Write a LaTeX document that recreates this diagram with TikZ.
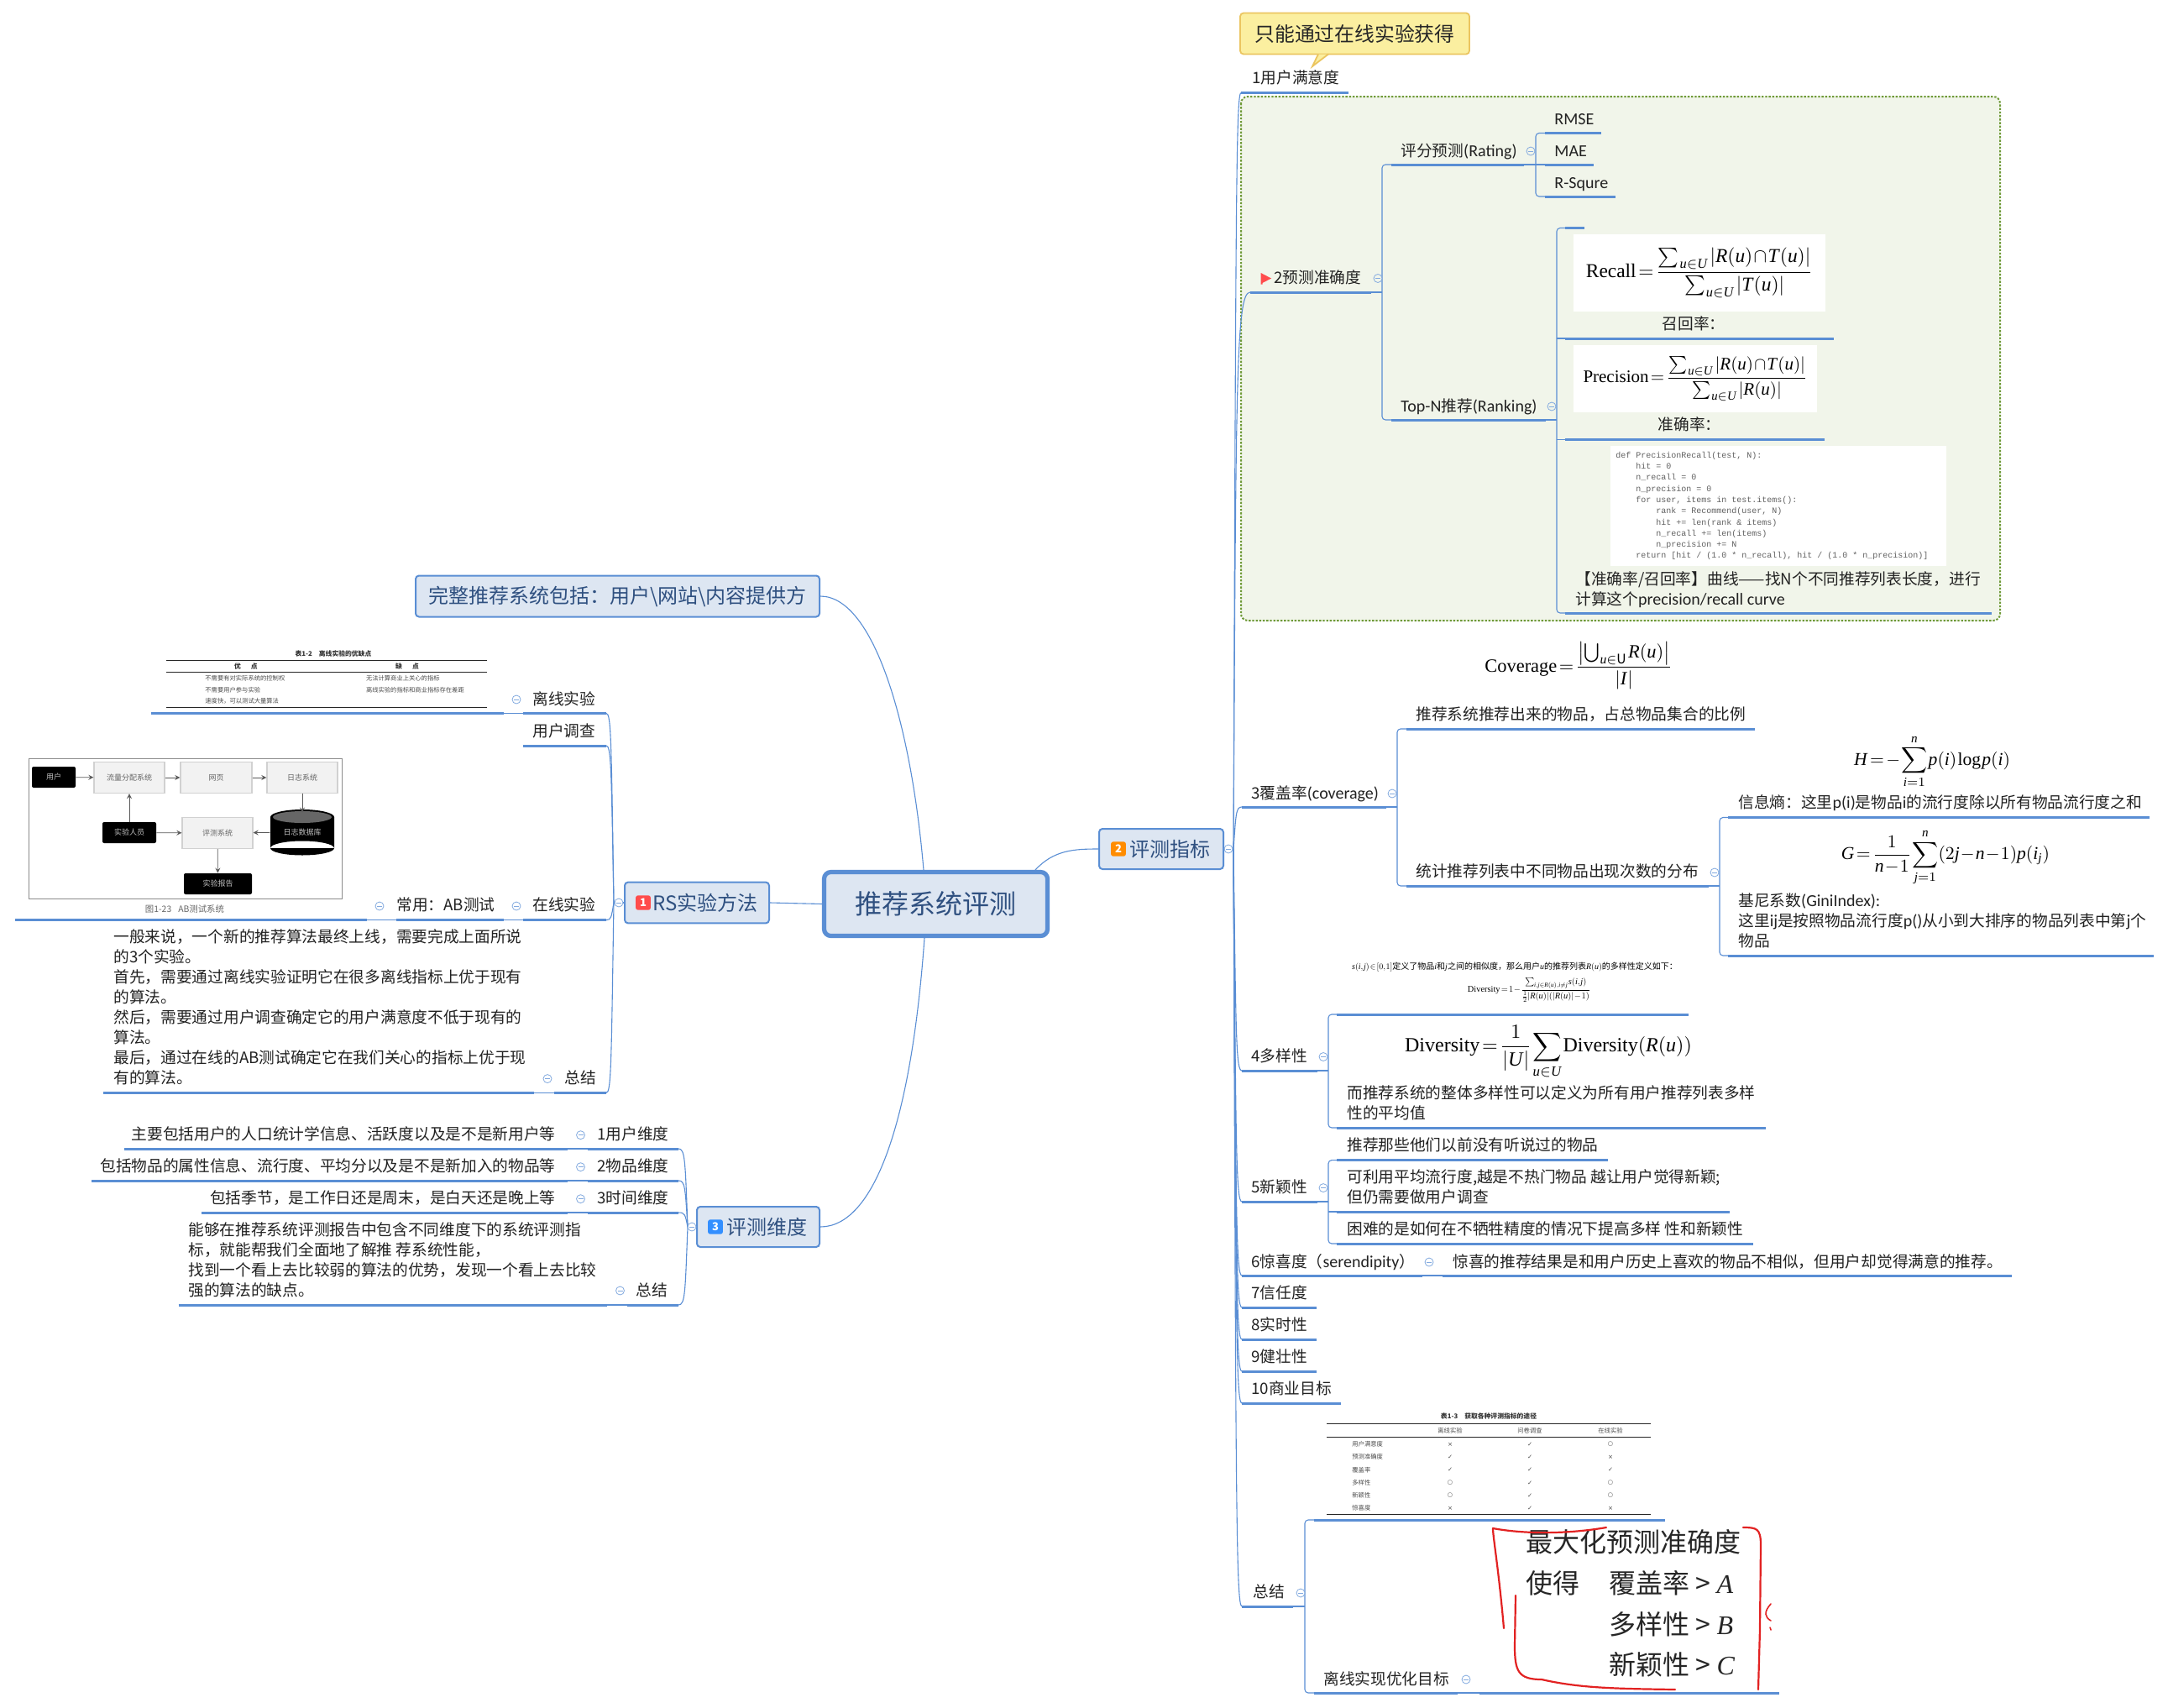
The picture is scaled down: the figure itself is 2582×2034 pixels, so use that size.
\documentclass[tikz,border=0pt]{standalone}
\usepackage{fontspec}
\usepackage{amsmath}
\usepackage{graphicx}
\usetikzlibrary{calc}
\setmainfont{Noto Sans CJK SC}
\newfontfamily\tms{Liberation Serif}
\newfontfamily\mono{Liberation Mono}
\newfontfamily\djv{DejaVu Sans}
\newfontfamily\ltn{Carlito}
\definecolor{linkc}{HTML}{5A8ED4}
\definecolor{boxfill}{HTML}{DDE6F2}
\definecolor{boxtext}{HTML}{2F5080}
\definecolor{greenbg}{HTML}{F1F5EA}
\definecolor{greenln}{HTML}{6F9A38}
\definecolor{calloutf}{HTML}{FBEFA0}
\definecolor{callouts}{HTML}{EBC560}
\definecolor{txt}{HTML}{222222}
\definecolor{redpen}{HTML}{E22222}
\newcommand\lblf{\fontsize{9.35}{12}\selectfont}
\newcommand\lat[1]{{\ltn\fontsize{10}{12}\selectfont #1}}
\newcommand\tv[1]{\text{\tms\itshape #1\/}}
\newcommand\tu[1]{\text{\tms #1}}
\newcommand\tightm{\thinmuskip=1mu\medmuskip=1mu\thickmuskip=2mu}
\newcommand\Ru{\tv{R}(\tv{u})}
\newcommand\Tu{\tv{T}(\tv{u})}
\newcommand\uU{\tv{u}\in\tv{U}}
\tikzset{
  conn/.style={draw=linkc,line width=0.55pt},
  ul/.style={draw=linkc,line width=1.5pt},
  lbl/.style={inner sep=0pt,font=\lblf,text=txt,text height=8.1pt,text depth=1.1pt},
  lblm/.style={inner sep=0pt,font=\lblf,text=txt,align=left},
  mainbox/.style={draw=linkc,fill=boxfill,line width=1pt,rounded corners=2pt,inner sep=0pt,text=boxtext,font=\fontsize{12}{14}\selectfont},
  iconb/.style={rounded corners=1.2pt,inner sep=0pt,minimum width=8.8pt,minimum height=8.6pt,text=white,font=\fontsize{6.5}{7}\selectfont\bfseries},
  imgbox/.style={fill=white,inner sep=0pt},
  foldc/.style={draw=linkc!75,line width=0.4pt},
  tbl/.style={inner sep=0pt,font=\fontsize{3.65}{4.4}\selectfont,text=black!70},
  tblb/.style={inner sep=0pt,font=\fontsize{3.9}{4.6}\selectfont\bfseries,text=black!80},
  abl/.style={draw=black!18,fill=black!5,line width=0.6pt,inner sep=0pt,font=\fontsize{4.5}{5}\selectfont,text=black!60},
  abd/.style={fill=black,rounded corners=1pt,inner sep=0pt,font=\fontsize{4.5}{5}\selectfont,text=white!75!black},
  abar/.style={draw=black!65,line width=0.35pt,->,>=stealth},
  pen/.style={draw=redpen,line width=1.1pt,line cap=round,line join=round},
  big/.style={inner sep=0pt,font=\fontsize{16}{18}\selectfont,text=black!85}
}
\newcommand\ulonly[4]{\coordinate (#1-a) at (#2,#4);\coordinate (#1-b) at (#3,#4);\draw[ul] (#1-a)--(#1-b);}
\newcommand\topic[7]{\ulonly{#1}{#2}{#3}{#4}\node[lbl,anchor=west] (#1-t) at (#5,#6) {#7};}
\newcommand\topicR[7]{\ulonly{#1}{#2}{#3}{#4}\node[lbl,anchor=east] (#1-t) at (#5,#6) {#7};}
\newcommand\topicC[7]{\ulonly{#1}{#2}{#3}{#4}\node[lbl,anchor=center] (#1-t) at (#5,#6) {#7};}
\newcommand\topicM[7]{\ulonly{#1}{#2}{#3}{#4}\node[lblm,anchor=west] (#1-t) at (#5,#6) {#7};}
\newcommand\kids[4]{\coordinate (#1-bx) at (#2,0);
  \draw[conn] (#1-b) -- (#1-b -| #1-bx);
  \draw[conn,rounded corners=2pt] (#3-a) -- (#3-a -| #1-bx) -- (#4-a -| #1-bx) -- (#4-a);}
\newcommand\kid[2]{\draw[conn] (#2-a) -- (#2-a -| #1-bx);}
\newcommand\hubcurve[3]{\draw[conn] (#1) .. controls ($(#1)!0.85!(#1|-#2)+(#3,0)$) and ($(#1|-#2)+(#3,0)$) .. (#2);}
\newcommand\fold[3][white]{\draw[foldc,fill=#1] (#2,#3) circle[radius=5];\draw[foldc] ({#2-3},#3) -- ({#2+3},#3);}
\newcommand\ind[1]{\hspace*{#1pt}}
\begin{document}
\begin{tikzpicture}[x=0.5pt,y=-0.5pt]
\useasboundingbox (0,0) rectangle (2582,2034);
\fill[white] (0,0) rectangle (2582,2034);

% green frame
\draw[draw=greenln,fill=greenbg,line width=1pt,dash pattern=on 1.2pt off 0.9pt,rounded corners=4pt] (1478,115) rectangle (2382,739);

% main nodes
\node[mainbox,line width=2.6pt,rounded corners=4pt,minimum width=133pt,minimum height=38pt,font=\fontsize{16}{18}\selectfont] (root) at (1114.5,1076.5) {推荐系统评测};
\node[mainbox,minimum width=86pt,minimum height=24.4pt] (rs) at (830,1075) {\hspace*{10pt}RS实验方法};
\node[iconb,fill=red!70!white] (rs-icon) at (766,1075) {1};
\node[mainbox,minimum width=74pt,minimum height=24pt] (met) at (1383,1011) {\hspace*{10pt}评测指标};
\node[iconb,fill=orange!90!yellow] (met-icon) at (1332,1011) {2};
\node[mainbox,minimum width=73pt,minimum height=24pt] (dim) at (903,1461) {\hspace*{10pt}评测维度};
\node[iconb,fill=blue!55!cyan!80!white] (dim-icon) at (852,1461) {3};
\node[mainbox,minimum width=240.5pt,minimum height=24.5pt] (whole) at (735.5,710) {完整推荐系统包括：用户\textbackslash 网站\textbackslash 内容提供方};

\coordinate (root-n1) at (1100,1036);
\coordinate (root-n2) at (1233,1036);
\coordinate (root-s1) at (1101,1117);
\draw[conn] (rs.east) -- (root.west);
\draw[conn] (root-n2) .. controls (1255,1012) and (1280,1011) .. (met.west);
\draw[conn] (root-n1) .. controls (1085,860) and (1040,710) .. (whole.east);
\draw[conn] (root-s1) .. controls (1085,1340) and (1040,1461) .. (dim.east);

% hubs
\coordinate (hubM) at (1469,1011);
\coordinate (hubR) at (731,1075);
\coordinate (hubD) at (819,1461);
\draw[conn] (met.east) -- (hubM);
\draw[conn] (rs.west) -- (hubR);
\draw[conn] (dim.west) -- (hubD);

% callout
\node[draw=callouts,fill=calloutf,line width=0.9pt,rounded corners=2pt,minimum width=136.5pt,minimum height=24.5pt,inner sep=0pt,font=\fontsize{11.9}{14}\selectfont,text=black!85] (note) at (1613.5,40) {只能通过在线实验获得};
\coordinate (note-l) at (1570,64.5);
\coordinate (note-r) at (1582,64.5);
\coordinate (note-tip) at (1563,79);
\fill[calloutf] (note-l) -- (note-tip) -- (note-r) -- cycle;
\draw[callouts,line width=0.9pt] (note-l) -- (note-tip) -- (note-r);

% ---------- right side
\topic{m1}{1478}{1606}{110.5}{1491}{92}{1用户满意度}
\topic{m2}{1489}{1633}{348}{1517}{330.5}{2预测准确度}
\fill[red!70!white] (1501.6,325) -- (1514,331.5) -- (1503.5,337) -- (1503.5,338.5) -- (1501.6,338.5) -- cycle;
\topic{rate}{1657}{1815}{196}{1668}{179}{评分预测\lat{(Rating)}}
\topic{rmse}{1840}{1907}{158.5}{1851}{141}{\lat{RMSE}}
\topic{mae}{1840}{1898}{196}{1851}{179}{\lat{MAE}}
\topic{rsq}{1840}{1924}{234}{1851}{217.6}{\lat{R-Squre}}
\topic{topn}{1657}{1841}{500}{1668}{483}{\lat{Top-N}推荐\lat{(Ranking)}}
\kids{rate}{1829}{rmse}{rsq}
\kid{rate}{mae}
\kids{m2}{1646}{rate}{topn}
\ulonly{e0}{1864}{1887}{271.5}
\topicC{rec}{1864}{2184}{403}{2017}{385}{召回率：}
\node[imgbox,minimum width=150pt,minimum height=46pt] (rec-img) at (2024,325) {\scalebox{1.17}{\tightm$\displaystyle\tu{Recall}=\frac{\sum_{\,\uU}|\Ru\cap\Tu|}{\sum_{\,\uU}|\Tu|}$}};
\topicC{pre}{1864}{2173}{523.5}{2012}{505}{准确率：}
\node[imgbox,minimum width=145pt,minimum height=40pt] (pre-img) at (2019,451) {\scalebox{1.05}{\tightm$\displaystyle\tu{Precision}=\frac{\sum_{\,\uU}|\Ru\cap\Tu|}{\sum_{\,\uU}|\Ru|}$}};
\node[imgbox,minimum width=200pt,minimum height=71.5pt] (code-img) at (2118,602.5) {};
\node[inner sep=0pt,anchor=west,align=left,text=black!62,font=\mono\fontsize{5}{6.65}\selectfont] (code) at (1924,602.5) {def PrecisionRecall(test, N):\\
\ind{12}hit = 0\\
\ind{12}n\_recall = 0\\
\ind{12}n\_precision = 0\\
\ind{12}for user, items in test.items():\\
\ind{24}rank = Recommend(user, N)\\
\ind{24}hit += len(rank \& items)\\
\ind{24}n\_recall += len(items)\\
\ind{24}n\_precision += N\\
\ind{12}return [hit / (1.0 * n\_recall), hit / (1.0 * n\_precision)]};
\topicM{curve}{1864}{2372}{730}{1876}{702}{【准确率/召回率】曲线——找N个不同推荐列表长度，进行\\计算这个\lat{precision/recall curve}}
\kids{topn}{1854}{e0}{curve}
\kid{topn}{rec}
\kid{topn}{pre}

\node[inner sep=0pt] (cov-f) at (1880,793) {\scalebox{1.12}{\tightm$\displaystyle\tu{Coverage}=\frac{\bigl|\bigcup_{\tv{u}\in\mathrm{U}}\Ru\bigr|}{|\tv{I}|}$}};
\topic{c1}{1675}{2090}{868}{1686}{850}{推荐系统推荐出来的物品，占总物品集合的比例}
\topic{c2}{1675}{2035}{1055}{1686}{1037}{统计推荐列表中不同物品出现次数的分布}
\topic{m3}{1479}{1651}{961}{1490}{944}{3覆盖率\lat{(coverage)}}
\kids{m3}{1664}{c1}{c2}
\node[inner sep=0pt] (h-f) at (2301,907) {\scalebox{1.08}{\tightm$\displaystyle \tv{H}=-\sum_{\tv{i}=1}^{\tv{n}}\tv{p}(\tv{i})\,\tu{log}\,\tv{p}(\tv{i})$}};
\topic{ent}{2058}{2560}{973.5}{2070}{955.5}{信息熵：这里\lat{p(i)}是物品\lat{i}的流行度除以所有物品流行度之和}
\node[inner sep=0pt] (g-f) at (2317,1021) {\scalebox{1.08}{\tightm$\displaystyle \tv{G}=\frac{1}{\tv{n}-1}\sum_{\tv{j}=1}^{\tv{n}}(2\tv{j}-\tv{n}-1)\tv{p}(\tv{i}_{\tv{j}})$}};
\topicM{gini}{2058}{2565}{1138}{2070}{1096.5}{基尼系数\lat{(GiniIndex):}\\这里\lat{ij}是按照物品流行度\lat{p()}从小到大排序的物品列表中第\lat{j}个\\物品}
\kids{c2}{2048}{ent}{gini}

\node[inner sep=0pt] (div-s) at (1804,1152) {\scalebox{0.5}{\fontsize{10}{12}\selectfont \tightm$\tv{s}(\tv{i},\tv{j})\in[0,1]$定义了物品$\tv{i}$和$\tv{j}$之间的相似度，那么用户$\tv{u}$的推荐列表$\Ru$的多样性定义如下：}};
\node[inner sep=0pt] (div-t) at (1821,1179) {\scalebox{0.52}{\tightm$\displaystyle\tu{Diversity}=1-\frac{\sum_{\tv{i},\tv{j}\in\Ru,\tv{i}\neq\tv{j}}\tv{s}(\tv{i},\tv{j})}{\frac12|\Ru|(|\Ru|-1)}$}};
\ulonly{d0}{1592}{2011}{1208}
\node[inner sep=0pt] (div-f) at (1844,1253) {\scalebox{1.2}{\tightm$\displaystyle\tu{Diversity}=\frac{1}{|\tv{U}|}\sum_{\uU}\tu{Diversity}(\Ru)$}};
\topicM{d1}{1592}{2103}{1343}{1604}{1313.5}{而推荐系统的整体多样性可以定义为所有用户推荐列表多样\\性的平均值}
\topic{m4}{1479}{1569}{1275}{1490}{1257.5}{4多样性}
\kids{m4}{1582}{d0}{d1}

\topic{n1}{1592}{1915}{1381.6}{1604}{1363}{推荐那些他们以前没有听说过的物品}
\topicM{n2}{1592}{2060}{1443}{1604}{1413.5}{可利用平均流行度,越是不热门物品 越让用户觉得新颖;\\但仍需要做用户调查}
\topic{n3}{1592}{2088}{1481}{1604}{1463.5}{困难的是如何在不牺牲精度的情况下提高多样 性和新颖性}
\topic{m5}{1479}{1569}{1431}{1490}{1413.6}{5新颖性}
\kids{m5}{1582}{n1}{n3}
\kid{m5}{n2}

\topic{m6}{1479}{1694}{1519}{1490}{1502}{6惊喜度（\lat{serendipity}）}
\topic{s1}{1718}{2396}{1519}{1730}{1502}{惊喜的推荐结果是和用户历史上喜欢的物品不相似，但用户却觉得满意的推荐。}
\draw[conn] (m6-b) -- (s1-a);
\topic{m7}{1479}{1568}{1557}{1490}{1539.6}{7信任度}
\topic{m8}{1479}{1568}{1595}{1490}{1577.6}{8实时性}
\topic{m9}{1479}{1568}{1633}{1490}{1615.6}{9健壮性}
\topic{m10}{1479}{1597}{1671}{1490}{1653}{10商业目标}

% table 1-3
\node[tblb] (t3-title) at (1773,1686.5) {表1-3\hspace{4pt}获取各种评测指标的途径};
\coordinate (t3-l) at (1580,0);\coordinate (t3-r) at (1966,0);
\foreach \yy/\w in {1695/0.5pt,1711/0.3pt,1803/0.5pt}{\draw[black!85,line width=\w] (t3-l |- 0,\yy) -- (t3-r |- 0,\yy);}
\node[tbl] (t3-h1) at (1727,1704) {离线实验};
\node[tbl] (t3-h2) at (1822,1704) {问卷调查};
\node[tbl] (t3-h3) at (1918,1704) {在线实验};
\foreach \i/\yy/\lab/\ma/\mb/\mc in {1/1720/用户满意度/×/✓/○,2/1735/预测准确度/✓/✓/×,3/1750.6/覆盖率/✓/✓/✓,4/1766/多样性/○/✓/○,5/1781/新颖性/○/✓/○,6/1796/惊喜度/×/✓/×}{
  \node[tbl,anchor=west] (t3-r\i) at (1610,\yy) {\lab};
  \node[tbl,font=\djv\fontsize{3.6}{4}\selectfont] (t3-a\i) at (1727,\yy) {\ma};
  \node[tbl,font=\djv\fontsize{3.6}{4}\selectfont] (t3-b\i) at (1822,\yy) {\mb};
  \node[tbl,font=\djv\fontsize{3.6}{4}\selectfont] (t3-c\i) at (1918,\yy) {\mc};
}
\ulonly{z0}{1565}{1983}{1810}
\topic{z1}{1565}{1736}{2016}{1576}{1999}{离线实现优化目标}
\ulonly{z2}{1762}{2119}{2016}
\draw[conn] (z1-b) -- (z2-a);
\topic{m11}{1479}{1540}{1913}{1492}{1895}{总结}
\kids{m11}{1554}{z0}{z1}
\node[big,anchor=west] (b1) at (1817,1836.5) {最大化预测准确度};
\node[big,anchor=west] (b2) at (1817,1885) {使得};
\node[big,anchor=west] (b3) at (1916,1885) {覆盖率 > {\tms\itshape A}};
\node[big,anchor=west] (b4) at (1916,1934) {多样性 > {\tms\itshape B}};
\node[big,anchor=west] (b5) at (1916,1982.5) {新颖性 > {\tms\itshape C}};
% red pen strokes
\draw[pen] (1791,1939) .. controls (1785,1870) and (1778,1830) .. (1778,1820) .. controls (1810,1826) and (1860,1828) .. (1913,1819);
\draw[pen] (2076,1819) .. controls (2092,1819) and (2097,1820) .. (2097,1840) -- (2096,1940) -- (2094,2012);
\draw[pen] (1805,1900) -- (1804,1960) .. controls (1804,1990) and (1808,2000) .. (1836,2000) .. controls (1880,2010) and (1920,2011) .. (1995,2012);
\draw[pen,line width=0.8pt] (2109,1910) .. controls (2100,1920) and (2102,1926) .. (2109,1930);
\draw[pen,line width=0.8pt] (2108,1938) -- (2109,1941);

\foreach \k in {m1,m2,m3,m4,m5,m6,m7,m8,m9,m10,m11}{\hubcurve{hubM}{\k-a}{3}}

% fold marks
\fold[greenbg]{1641}{331.5}\fold[greenbg]{1823}{180}\fold[greenbg]{1848}{484}
\fold{1463}{1011}\fold{1658}{945}\fold{2042}{1039}\fold{1576}{1258.5}\fold{1576}{1414.6}\fold{1702}{1503}\fold{1549}{1897}\fold{1746}{2000}

% ---------- left: RS
\topic{o1}{623}{722}{849.4}{634}{832}{离线实验}
\ulonly{o1i}{180}{600}{849.4}
\draw[conn] (o1i-b) -- (o1-a);
\node[tblb] (t2-title) at (397,778) {表1-2\hspace{4pt}离线实验的优缺点};
\coordinate (t2-l) at (198,0);\coordinate (t2-r) at (580,0);
\foreach \yy/\w in {786/0.5pt,800.6/0.3pt,842/0.5pt}{\draw[black!85,line width=\w] (t2-l |- 0,\yy) -- (t2-r |- 0,\yy);}
\node[tblb] (t2-h1) at (293,794) {优\hspace{6pt}点};
\node[tblb] (t2-h2) at (485,794) {缺\hspace{6pt}点};
\node[tbl,anchor=west] (t2-a1) at (244,808) {不需要有对实际系统的控制权};
\node[tbl,anchor=west] (t2-a2) at (244,821.6) {不需要用户参与实验};
\node[tbl,anchor=west] (t2-a3) at (244,835) {速度快，可以测试大量算法};
\node[tbl,anchor=west] (t2-b1) at (435.6,808) {无法计算商业上关心的指标};
\node[tbl,anchor=west] (t2-b2) at (435.6,821.6) {离线实验的指标和商业指标存在差距};
\topic{o2}{623}{722}{888}{634}{870}{用户调查}
\topic{o3}{623}{722}{1095.6}{634}{1077}{在线实验}
\topic{o3a}{472}{600}{1095.6}{472}{1077.5}{常用：AB测试}
\ulonly{o3b}{18}{437}{1095.6}
\draw[conn] (o3a-b) -- (o3-a);
\draw[conn] (o3b-b) -- (o3a-a);
% AB system figure
\draw[black!45,line width=0.5pt,fill=white] (34,903) rectangle (407,1070);
\node[abd,minimum width=26pt,minimum height=12.5pt] (ab-user) at (64,925.5) {用户};
\node[abl,minimum width=42pt,minimum height=18.5pt] (ab-flow) at (154,926) {流量分配系统};
\node[abl,minimum width=42.5pt,minimum height=18.5pt] (ab-web) at (257.5,926) {网页};
\node[abl,minimum width=42pt,minimum height=18.5pt] (ab-log) at (360,926) {日志系统};
\node[abd,minimum width=32pt,minimum height=12.5pt] (ab-exp) at (154,991.5) {实验人员};
\node[abl,minimum width=42pt,minimum height=18.5pt] (ab-eval) at (259,992) {评测系统};
\node[abd,minimum width=40.5pt,minimum height=12.5pt] (ab-rep) at (259.5,1052.5) {实验报告};
\fill[black] (322,973) rectangle (398,1010) (360,1010) ellipse[x radius=38,y radius=8.5];
\fill[black] (360,973) ellipse[x radius=38,y radius=9];
\fill[black!60] (360,973) ellipse[x radius=35,y radius=7];
\node[inner sep=0pt,minimum width=38pt,minimum height=23pt,font=\fontsize{4.5}{5}\selectfont,text=white!75!black] (ab-db) at (360,991) {日志数据库};
\draw[abar] (ab-user) -- (ab-flow);
\draw[abar] (ab-flow) -- (ab-web);
\draw[abar] (ab-web) -- (ab-log);
\draw[abar] (ab-log) -- (ab-db.north);
\draw[abar] (ab-db) -- (ab-eval);
\draw[abar] (ab-exp) -- (ab-eval);
\draw[abar] (ab-exp) -- (ab-flow);
\draw[abar] (ab-eval) -- (ab-rep);
\node[inner sep=0pt,font=\fontsize{5.2}{6}\selectfont,text=black!60] (ab-cap) at (220,1083) {图1-23\hspace{4pt}AB测试系统};
\topic{o4}{660}{722}{1301.4}{672}{1283}{总结}
\topicM{o4t}{123}{636}{1301.4}{135}{1199}{一般来说，一个新的推荐算法最终上线，需要完成上面所说\\的3个实验。\\首先，需要通过离线实验证明它在很多离线指标上优于现有\\的算法。\\然后，需要通过用户调查确定它的用户满意度不低于现有的\\算法。\\最后，通过在线的AB测试确定它在我们关心的指标上优于现\\有的算法。}
\draw[conn] (o4t-b) -- (o4-a);
\foreach \k in {o1,o2,o3,o4}{\hubcurve{hubR}{\k-b}{-3}}
\fold{737}{1075}\fold{615}{833}\fold{615}{1079}\fold{452}{1079}\fold{652}{1284.6}

% ---------- left: dimensions
\topic{v1}{700}{808}{1368}{711}{1350.7}{1用户维度}
\topicR{v1t}{147.5}{675.6}{1368}{662}{1350.7}{主要包括用户的人口统计学信息、活跃度以及是不是新用户等}
\topic{v2}{700}{808}{1406}{711}{1388.7}{2物品维度}
\topicR{v2t}{109}{675.6}{1406}{662}{1388.7}{包括物品的属性信息、流行度、平均分以及是不是新加入的物品等}
\topic{v3}{700}{808}{1444}{711}{1426.7}{3时间维度}
\topicR{v3t}{240}{675.6}{1444}{662}{1426.7}{包括季节，是工作日还是周末，是白天还是晚上等}
\topic{v4}{747}{808}{1554}{757}{1536.7}{总结}
\topicM{v4t}{212.6}{722.6}{1554}{224}{1500.7}{能够在推荐系统评测报告中包含不同维度下的系统评测指\\标，就能帮我们全面地了解推 荐系统性能，\\找到一个看上去比较弱的算法的优势，发现一个看上去比较\\强的算法的缺点。}
\draw[conn] (v1t-b) -- (v1-a);
\draw[conn] (v2t-b) -- (v2-a);
\draw[conn] (v3t-b) -- (v3-a);
\draw[conn] (v4t-b) -- (v4-a);
\foreach \k in {v1,v2,v3,v4}{\hubcurve{hubD}{\k-b}{-3}}
\fold{824}{1461}\fold{691.5}{1351.7}\fold{691.5}{1389.7}\fold{691.5}{1427.7}\fold{738.5}{1537}
\end{tikzpicture}
\end{document}
